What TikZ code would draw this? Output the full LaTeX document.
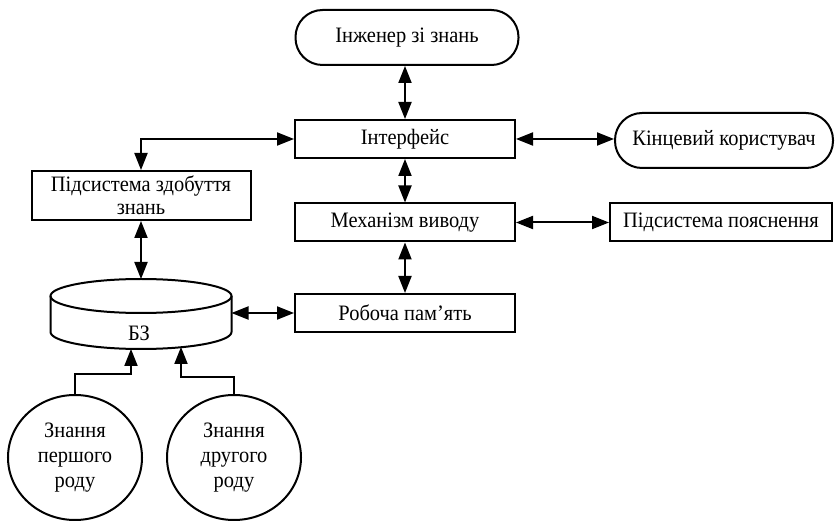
\documentclass[tikz,border=0pt]{standalone}
\usepackage{fontspec}
\setmainfont{Liberation Serif}[FakeStretch=0.93]
\usetikzlibrary{arrows.meta,shapes.geometric}
\begin{document}
\begin{tikzpicture}[x=1pt,y=-1pt,line width=2pt,
  txt/.style={font=\fontsize{22}{25}\selectfont,align=center},
  box/.style={draw,rectangle,minimum width=220pt,minimum height=38pt,inner sep=0pt,txt},
  term/.style={draw,rectangle,rounded corners=27pt,minimum height=55pt,inner sep=0pt,txt},
  know/.style={draw,ellipse,minimum width=134pt,minimum height=125pt,inner sep=0pt,txt},
  tip/.tip={Triangle[length=17pt,width=13pt]},
  link/.style={tip-tip},
  feed/.style={-tip}]
\useasboundingbox (0,0) rectangle (836,521);
% nodes
\node[term,minimum width=223pt] (eng) at (407,37.5) {Інженер зі знань};
\node[box] (intf) at (405,139) {Інтерфейс};
\node[term,minimum width=218pt] (user) at (724,140.5) {Кінцевий користувач};
\node[box] (mech) at (405,222.5) {Механізм виводу};
\node[box,minimum width=222pt] (expl) at (721,222.5) {Підсистема пояснення};
\node[box] (mem) at (405,313) {Робоча пам’ять};
\node[box,minimum width=219pt,minimum height=49pt] (acq) at (141,195.5) {Підсистема здобуття\\[-2pt]знань};
% cylinder (knowledge base)
\draw (50.5,296) -- (50.5,332) arc[start angle=180,end angle=360,x radius=90.5pt,y radius=17pt] -- (231.5,296);
\draw (141,296) ellipse[x radius=90.5pt,y radius=17pt];
\node[txt] (bz) at (139,333) {БЗ};
\coordinate (cyltop) at (141,279);
\coordinate (cylright) at (231.5,313);
\coordinate (b1) at (131,349);
\coordinate (b2) at (181,347);
% knowledge sources
\node[know] (k1) at (75,457.5) {Знання\\першого\\роду};
\node[know] (k2) at (234,457.5) {Знання\\другого\\роду};
% connectors
\draw[link] (intf.north |- eng.south) -- (intf.north);
\draw[link] (intf.south) -- (mech.north);
\draw[link] (mech.south) -- (mem.north);
\draw[link] (intf.east) -- (intf.east -| user.west);
\draw[link] (mech.east) -- (expl.west);
\draw[link] (intf.west) -| (acq.north);
\draw[link] (acq.south) -- (cyltop);
\draw[link] (cylright) -- (mem.west);
\draw[feed] (k1.north) -- ++(0,-20) -| (b1);
\draw[feed] (k2.north) -- ++(0,-17) -| (b2);
\end{tikzpicture}
\end{document}
